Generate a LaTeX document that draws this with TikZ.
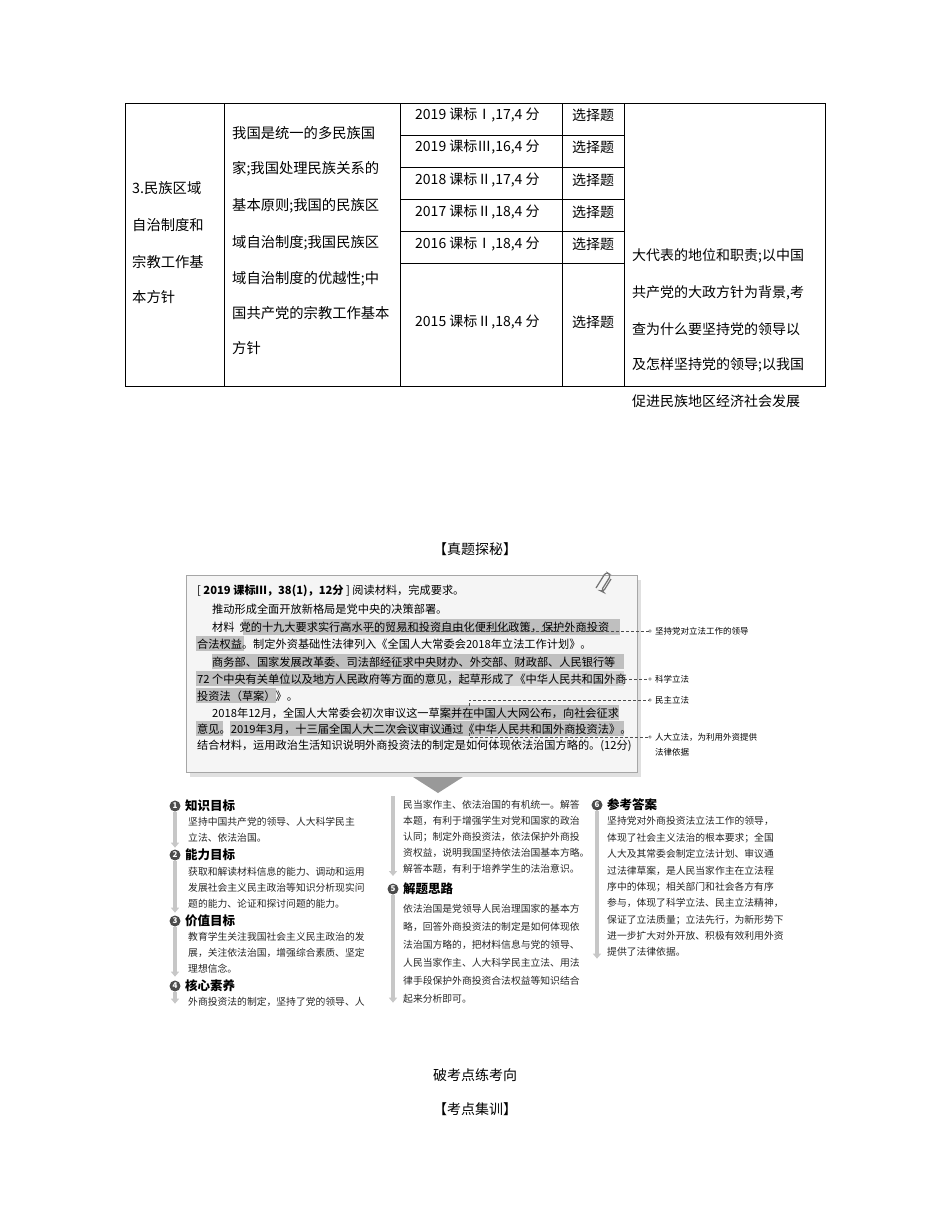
\documentclass[tikz,border=0pt]{standalone}
\usepackage{fontspec}
\setmainfont{Noto Sans CJK SC}
\usetikzlibrary{arrows.meta}
\begin{document}
\begin{tikzpicture}[x=1pt,y=-1pt,
  tt/.style={anchor=west,inner sep=0,font=\fontsize{14.3}{14.3}\selectfont},
  t5/.style={anchor=west,inner sep=0,font=\fontsize{14}{14}\selectfont},
  pt/.style={anchor=west,inner sep=0,font=\fontsize{11.2}{11.2}\selectfont},
  lb/.style={anchor=west,inner sep=0,font=\fontsize{8.5}{8.5}\selectfont},
  ct/.style={anchor=west,inner sep=0,font=\fontsize{9.8}{9.8}\selectfont,text=black!85},
  hd/.style={anchor=west,inner sep=0,font=\fontsize{12.5}{12.5}\selectfont\bfseries},
  num/.style={circle,fill=black!70,text=white,inner sep=0,minimum size=11pt,font=\fontsize{8}{8}\selectfont\bfseries},
  hl/.style={fill=black!25},
  dl/.style={densely dashed,black!70,line width=0.5pt},
  arr/.style={line width=3.5pt,black!22,-{Triangle[length=5pt,width=8pt]}}]
\useasboundingbox (0,0) rectangle (950,1224);
% ---------------- table
\draw[line width=0.6pt] (125,103) rectangle (825,386);
\foreach \x in {224,400,562,624} \draw[line width=0.6pt] (\x,103)--(\x,386);
\foreach \y in {135,167,199,231,263} \draw[line width=0.6pt] (400,\y)--(624,\y);
\node[tt] (c1a) at (132,188) {3.民族区域};
\node[tt] (c1b) at (132,225) {自治制度和};
\node[tt] (c1c) at (132,262) {宗教工作基};
\node[tt] (c1d) at (132,297) {本方针};
\node[tt] (c2a) at (232,133) {我国是统一的多民族国};
\node[tt] (c2b) at (232,169) {家;我国处理民族关系的};
\node[tt] (c2c) at (232,206) {基本原则;我国的民族区};
\node[tt] (c2d) at (232,243) {域自治制度;我国民族区};
\node[tt] (c2e) at (232,279) {域自治制度的优越性;中};
\node[tt] (c2f) at (232,313) {国共产党的宗教工作基本};
\node[tt] (c2g) at (232,348) {方针};
\node[t5] (r1) at (415,115) {2019 课标Ⅰ,17,4 分};
\node[t5] (r2) at (415,147) {2019 课标Ⅲ,16,4 分};
\node[t5] (r3) at (415,180) {2018 课标Ⅱ,17,4 分};
\node[t5] (r4) at (415,212) {2017 课标Ⅱ,18,4 分};
\node[t5] (r5) at (415,244) {2016 课标Ⅰ,18,4 分};
\node[t5] (r6) at (415,322) {2015 课标Ⅱ,18,4 分};
\foreach \y/\n in {115/a,147/b,180/c,212/d,244/e,322/f} \node[t5] (x\n) at (572,\y) {选择题};
\node[t5] (e1) at (632,256) {大代表的地位和职责;以中国};
\node[t5] (e2) at (632,293) {共产党的大政方针为背景,考};
\node[t5] (e3) at (632,329) {查为什么要坚持党的领导以};
\node[t5] (e4) at (632,365) {及怎样坚持党的领导;以我国};
\node[t5] (e5) at (632,401) {促进民族地区经济社会发展};
% ---------------- headline
\node[t5,anchor=center] (h1) at (475,549) {【真题探秘】};
% panel
\fill[black!12] (190,580) rectangle (641,777);
\draw[black!35,fill=black!4] (186,575) rectangle (637,772);
\draw[black!55,line width=1.2pt,rounded corners=3pt] (596,588)--(606,572)--(611,575)--(601,591)--(603,592)--(611,579);
% highlights
\fill[hl] (243,619) rectangle (620,635);
\fill[hl] (196,636) rectangle (244,651);
\fill[hl] (212,654) rectangle (624,669);
\fill[hl] (196,671) rectangle (365,686);
\fill[black!18] (365,671) rectangle (624,686);
\fill[hl] (196,688) rectangle (276,703);
\fill[hl] (440,705) rectangle (619,720);
\fill[hl] (196,721) rectangle (223,736);
\fill[hl] (230,721) rectangle (624,736);
\node[pt] (p1) at (197,591) {[ \textbf{2019 课标Ⅲ，38(1)，12分} ] 阅读材料，完成要求。};
\node[pt] (p2) at (212,609) {推动形成全面开放新格局是党中央的决策部署。};
\node[pt] (p3) at (212,627) {材料\ \ 党的十九大要求实行高水平的贸易和投资自由化便利化政策，保护外商投资};
\node[pt] (p4) at (197,644) {合法权益。制定外资基础性法律列入《全国人大常委会2018年立法工作计划》。};
\node[pt] (p5) at (212,662) {商务部、国家发展改革委、司法部经征求中央财办、外交部、财政部、人民银行等};
\node[pt] (p6) at (197,679) {72 个中央有关单位以及地方人民政府等方面的意见，起草形成了《中华人民共和国外商};
\node[pt] (p7) at (197,696) {投资法（草案）》。};
\node[pt] (p8) at (212,713) {2018年12月，全国人大常委会初次审议这一草案并在中国人大网公布，向社会征求};
\node[pt] (p9) at (197,729) {意见。2019年3月，十三届全国人大二次会议审议通过《中华人民共和国外商投资法》。};
\node[pt] (p10) at (197,746) {结合材料，运用政治生活知识说明外商投资法的制定是如何体现依法治国方略的。(12分)};
% labels
\node[lb] (l1) at (655,631) {坚持党对立法工作的领导};
\node[lb] (l2) at (655,679) {科学立法};
\node[lb] (l3) at (655,700) {民主立法};
\node[lb] (l4) at (655,737) {人大立法，为利用外资提供};
\node[lb] (l4b) at (655,752) {法律依据};
\foreach \n in {l1,l2,l3,l4} \draw[black!70] ([xshift=-5pt]\n.west) circle (1.3pt);
\coordinate (d1) at (365,627);
\draw[dl] (d1)--++(0,4)-|(624,631)--([xshift=-6.5pt]l1.west);
\draw[dl] (624,679)--([xshift=-6.5pt]l2.west);
\coordinate (d3) at (469,706);
\draw[dl] (d3)|-([xshift=-6.5pt]l3.west);
\coordinate (d4) at (469,728);
\draw[dl] (d4)|-([xshift=-6.5pt]l4.west);
% big arrow
\fill[black!40] (413,777) -- (463,777) -- (438,793) -- cycle;
% ---------------- column 1
\node[num] (n1) at (175,806) {1}; \node[hd] (h1a) at (185,806) {知识目标};
\node[ct] (a1) at (188,822) {坚持中国共产党的领导、人大科学民主};
\node[ct] (a2) at (188,838) {立法、依法治国。};
\draw[arr] (n1.south)--++(0,36);
\node[num] (n2) at (175,855) {2}; \node[hd] (h2a) at (185,855) {能力目标};
\node[ct] (b1) at (188,872) {获取和解读材料信息的能力、调动和运用};
\node[ct] (b2) at (188,888) {发展社会主义民主政治等知识分析现实问};
\node[ct] (b3) at (188,904) {题的能力、论证和探讨问题的能力。};
\draw[arr] (n2.south)--++(0,52);
\node[num] (n3) at (175,921) {3}; \node[hd] (h3a) at (185,921) {价值目标};
\node[ct] (c1) at (188,937) {教育学生关注我国社会主义民主政治的发};
\node[ct] (c2) at (188,953) {展，关注依法治国，增强综合素质、坚定};
\node[ct] (c3) at (188,969) {理想信念。};
\draw[arr] (n3.south)--++(0,50);
\node[num] (n4) at (175,986) {4}; \node[hd] (h4a) at (185,986) {核心素养};
\node[ct] (d1t) at (188,1002) {外商投资法的制定，坚持了党的领导、人};
\draw[arr] (n4.south)--++(0,12);
% column 2
\coordinate (s2) at (393,796);
\draw[arr] (s2)--++(0,80);
\node[ct] (e1t) at (403,805) {民当家作主、依法治国的有机统一。解答};
\node[ct] (e2t) at (403,821) {本题，有利于增强学生对党和国家的政治};
\node[ct] (e3t) at (403,837) {认同；制定外商投资法，依法保护外商投};
\node[ct] (e4t) at (403,853) {资权益，说明我国坚持依法治国基本方略。};
\node[ct] (e5t) at (403,869) {解答本题，有利于培养学生的法治意识。};
\node[num] (n5) at (393,889) {5}; \node[hd] (h5a) at (403,889) {解题思路};
\node[ct] (f1) at (403,909) {依法治国是党领导人民治理国家的基本方};
\node[ct] (f2) at (403,927) {略，回答外商投资法的制定是如何体现依};
\node[ct] (f3) at (403,945) {法治国方略的，把材料信息与党的领导、};
\node[ct] (f4) at (403,963) {人民当家作主、人大科学民主立法、用法};
\node[ct] (f5) at (403,981) {律手段保护外商投资合法权益等知识结合};
\node[ct] (f6) at (403,999) {起来分析即可。};
\draw[arr] (n5.south)--++(0,108);
% column 3
\node[num] (n6) at (597,805) {6}; \node[hd] (h6a) at (607,805) {参考答案};
\node[ct] (g1) at (607,821) {坚持党对外商投资法立法工作的领导，};
\node[ct] (g2) at (607,838) {体现了社会主义法治的根本要求；全国};
\node[ct] (g3) at (607,854) {人大及其常委会制定立法计划、审议通};
\node[ct] (g4) at (607,871) {过法律草案，是人民当家作主在立法程};
\node[ct] (g5) at (607,887) {序中的体现；相关部门和社会各方有序};
\node[ct] (g6) at (607,903) {参与，体现了科学立法、民主立法精神，};
\node[ct] (g7) at (607,920) {保证了立法质量；立法先行，为新形势下};
\node[ct] (g8) at (607,936) {进一步扩大对外开放、积极有效利用外资};
\node[ct] (g9) at (607,952) {提供了法律依据。};
\draw[arr] (n6.south)--++(0,148);
% footer
\node[t5,anchor=center] (f_1) at (475,1075) {破考点练考向};
\node[t5,anchor=center] (f_2) at (475,1109) {【考点集训】};
\end{tikzpicture}
\end{document}
